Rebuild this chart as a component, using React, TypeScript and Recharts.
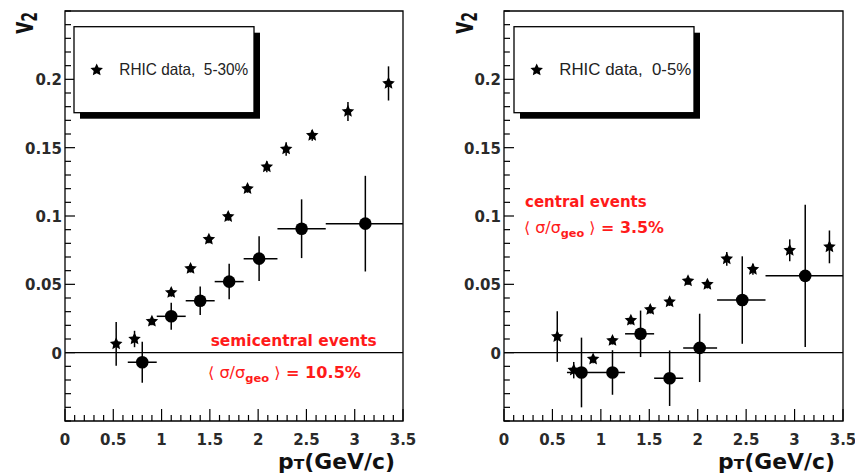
import React from 'react';
import { ScatterChart, Scatter, XAxis, YAxis, ErrorBar, ReferenceLine, ReferenceArea } from 'recharts';

// pT bins of the model points (GeV/c), same for both panels
const binLow = [0.65, 0.95, 1.25, 1.55, 1.85, 2.2, 2.7];
const binHigh = [0.95, 1.25, 1.55, 1.85, 2.2, 2.7, 3.5];

// semicentral (5-30%) data
const semiStarPt = [0.53, 0.72, 0.9, 1.1, 1.3, 1.49, 1.69, 1.89, 2.09, 2.29, 2.56, 2.93, 3.35];
const semiStarV2 = [0.0064, 0.01, 0.023, 0.044, 0.0616, 0.083, 0.0996, 0.12, 0.136, 0.149, 0.159, 0.1765, 0.197];
const semiStarErr = [0.016, 0.006, 0.003, 0.003, 0.003, 0.003, 0.003, 0.003, 0.004, 0.005, 0.004, 0.007, 0.0125];
const semiDotPt = [0.8, 1.1, 1.4, 1.7, 2.01, 2.45, 3.11];
const semiDotV2 = [-0.007, 0.0266, 0.038, 0.052, 0.0688, 0.0907, 0.0944];
const semiDotErr = [0.015, 0.0099, 0.0105, 0.013, 0.0164, 0.0215, 0.035];

// central (0-5%) data
const centStarPt = [0.55, 0.72, 0.92, 1.12, 1.31, 1.51, 1.71, 1.9, 2.1, 2.3, 2.57, 2.95, 3.36];
const centStarV2 = [0.0118, -0.0128, -0.0047, 0.0089, 0.0237, 0.0316, 0.0372, 0.0525, 0.05, 0.0686, 0.061, 0.0749, 0.0774];
const centStarErr = [0.0185, 0.006, 0.003, 0.003, 0.003, 0.003, 0.003, 0.003, 0.003, 0.005, 0.004, 0.008, 0.012];
const centDotPt = [0.8, 1.12, 1.41, 1.71, 2.02, 2.46, 3.11];
const centDotV2 = [-0.0145, -0.0145, 0.0138, -0.0187, 0.0035, 0.0385, 0.0562];
const centDotErr = [0.0255, 0.0163, 0.017, 0.0203, 0.025, 0.032, 0.052];

const xMajor = [0, 0.5, 1, 1.5, 2, 2.5, 3, 3.5];
const yMajor = [0, 0.05, 0.1, 0.15, 0.2];
const xTicks = Array.from({ length: 36 }, (_, i) => i / 10);
const yTicks = Array.from({ length: 31 }, (_, i) => (i - 5) / 100);

const tickFont = { fontFamily: 'DejaVu Sans', fontWeight: 'bold', fontSize: 15, fill: '#2a2a2a' } as const;
const RED = '#ff1a1a';

const makeStars = (pt: number[], v2: number[], err: number[]) =>
  pt.map((x, i) => ({ x, y: v2[i], ey: err[i] }));
const makeDots = (pt: number[], v2: number[], err: number[]) =>
  pt.map((x, i) => ({ x, y: v2[i], ey: err[i], ex: [x - binLow[i], binHigh[i] - x] }));

const findMajor = (v: number, list: number[]) => list.find((m) => Math.abs(m - v) < 1e-6);

const starPoints = (cx: number, cy: number, R: number) => {
  const pts: string[] = [];
  for (let k = 0; k < 10; k++) {
    const r = k % 2 === 0 ? R : R * 0.48;
    const a = -Math.PI / 2 + (k * Math.PI) / 5;
    pts.push(`${cx + r * Math.cos(a)},${cy + r * Math.sin(a)}`);
  }
  return pts.join(' ');
};

const StarShape = (props: any) => <polygon points={starPoints(props.cx, props.cy, 6.6)} fill="#000" />;
const DotShape = (props: any) => <circle cx={props.cx} cy={props.cy} r={6.3} fill="#000" />;

const XTick = (props: any) => {
  const { x, y, payload } = props;
  const m = findMajor(payload.value, xMajor);
  const major = m !== undefined;
  return (
    <g>
      <line x1={x} x2={x} y1={y} y2={y - (major ? 12 : 6)} stroke="#000" strokeWidth={1.2} />
      {major && (
        <text x={x} y={y + 24} textAnchor="middle" {...tickFont}>
          {String(m)}
        </text>
      )}
    </g>
  );
};

const YTick = (props: any) => {
  const { x, y, payload } = props;
  const m = findMajor(payload.value, yMajor);
  const major = m !== undefined;
  return (
    <g>
      <line x1={x} x2={x + (major ? 10 : 6)} y1={y} y2={y} stroke="#000" strokeWidth={1.2} />
      {major && (
        <text x={x - 3} y={y + 6} textAnchor="end" {...tickFont}>
          {String(m)}
        </text>
      )}
    </g>
  );
};

interface PanelProps {
  stars: any[];
  dots: any[];
  left: number;
  width: number;
  yAxisWidth: number;
  rightMargin: number;
}

const Panel = ({ stars, dots, left, width, yAxisWidth, rightMargin }: PanelProps) => (
  <div style={{ position: 'absolute', left, top: 0 }}>
    <ScatterChart width={width} height={476} margin={{ top: 11, right: rightMargin, bottom: 0, left: 0 }}>
      <XAxis
        type="number"
        dataKey="x"
        domain={[0, 3.5]}
        ticks={xTicks}
        interval={0}
        height={55}
        tickSize={0}
        tickMargin={0}
        axisLine={false}
        tickLine={false}
        tick={<XTick />}
        allowDataOverflow
      />
      <YAxis
        type="number"
        dataKey="y"
        domain={[-0.05, 0.25]}
        ticks={yTicks}
        interval={0}
        width={yAxisWidth}
        tickSize={0}
        tickMargin={0}
        axisLine={false}
        tickLine={false}
        tick={<YTick />}
        allowDataOverflow
      />
      <ReferenceLine y={0} stroke="#000" strokeWidth={1.3} />
      <Scatter data={stars} shape={<StarShape />} isAnimationActive={false}>
        <ErrorBar dataKey="ey" direction="y" width={0} stroke="#000" strokeWidth={1.5} />
      </Scatter>
      <Scatter data={dots} shape={<DotShape />} isAnimationActive={false}>
        <ErrorBar dataKey="ey" direction="y" width={0} stroke="#000" strokeWidth={1.5} />
        <ErrorBar dataKey="ex" direction="x" width={0} stroke="#000" strokeWidth={1.5} />
      </Scatter>
      <ReferenceArea x1={0} x2={3.5} y1={-0.05} y2={0.25} fill="none" stroke="#000" strokeWidth={1.3} ifOverflow="visible" />
    </ScatterChart>
  </div>
);

const LegendBox = ({ x, label, textLen }: { x: number; label: string; textLen: number }) => (
  <g>
    <rect x={x + 6} y={32.7} width={180} height={86} fill="#000" />
    <rect x={x} y={26.7} width={180} height={86} fill="#fff" stroke="#000" strokeWidth={1.3} />
    <polygon points={starPoints(x + 22.7, 70, 6.6)} fill="#000" />
    <text x={x + 45.3} y={75} fontFamily="Liberation Sans" fontSize={16.5} fill="#222" textLength={textLen} lengthAdjust="spacingAndGlyphs" style={{ whiteSpace: 'pre' }}>
      {label}
    </text>
  </g>
);

const V2Title = ({ x }: { x: number }) => (
  <text transform={`translate(${x},34) rotate(-90) scale(0.62,1)`} fontFamily="DejaVu Sans" fontWeight="bold" fontSize={31} fill="#111">
    v<tspan fontSize={22} dy={4}>2</tspan>
  </text>
);

const PtTitle = ({ x }: { x: number }) => (
  <text x={x} y={469} fontFamily="DejaVu Sans" fontWeight="bold" fontSize={20.5} fill="#111" textLength={117} lengthAdjust="spacingAndGlyphs">
    p<tspan fontSize={14.5}>T</tspan>(GeV/c)
  </text>
);

const SigmaLine = ({ x, y, value, len }: { x: number; y: number; value: string; len: number }) => (
  <text x={x} y={y} fill={RED} fontFamily="DejaVu Sans" fontSize={15.5} textLength={len} lengthAdjust="spacingAndGlyphs">
    <tspan>⟨ σ/σ</tspan>
    <tspan fontSize={11} fontWeight="bold" dy={4}>geo</tspan>
    <tspan dy={-4}> ⟩</tspan>
    <tspan fontWeight="bold">{` = ${value}`}</tspan>
  </text>
);

export default function App() {
  return (
    <div style={{ position: 'absolute', left: 0, top: 0, width: 855, height: 476, background: '#fff' }}>
      <Panel
        stars={makeStars(semiStarPt, semiStarV2, semiStarErr)}
        dots={makeDots(semiDotPt, semiDotV2, semiDotErr)}
        left={0}
        width={430}
        yAxisWidth={65}
        rightMargin={27}
      />
      <Panel
        stars={makeStars(centStarPt, centStarV2, centStarErr)}
        dots={makeDots(centDotPt, centDotV2, centDotErr)}
        left={430}
        width={425}
        yAxisWidth={74}
        rightMargin={12}
      />
      <svg width={855} height={476} style={{ position: 'absolute', left: 0, top: 0, pointerEvents: 'none' }}>
        <LegendBox x={74} label={'RHIC data,\u00A0 5-30%'} textLen={129} />
        <LegendBox x={514} label={'RHIC data,\u00A0 0-5%'} textLen={132} />
        <V2Title x={33} />
        <V2Title x={472.5} />
        <PtTitle x={278} />
        <PtTitle x={718} />
        <text x={210.7} y={346} fill={RED} fontFamily="DejaVu Sans" fontWeight="bold" fontSize={15.5} textLength={166} lengthAdjust="spacingAndGlyphs">
          semicentral events
        </text>
        <SigmaLine x={208} y={378} value="10.5%" len={153} />
        <text x={525} y={207} fill={RED} fontFamily="DejaVu Sans" fontWeight="bold" fontSize={15.5} textLength={121.7} lengthAdjust="spacingAndGlyphs">
          central events
        </text>
        <SigmaLine x={524} y={233} value="3.5%" len={140} />
      </svg>
    </div>
  );
}
